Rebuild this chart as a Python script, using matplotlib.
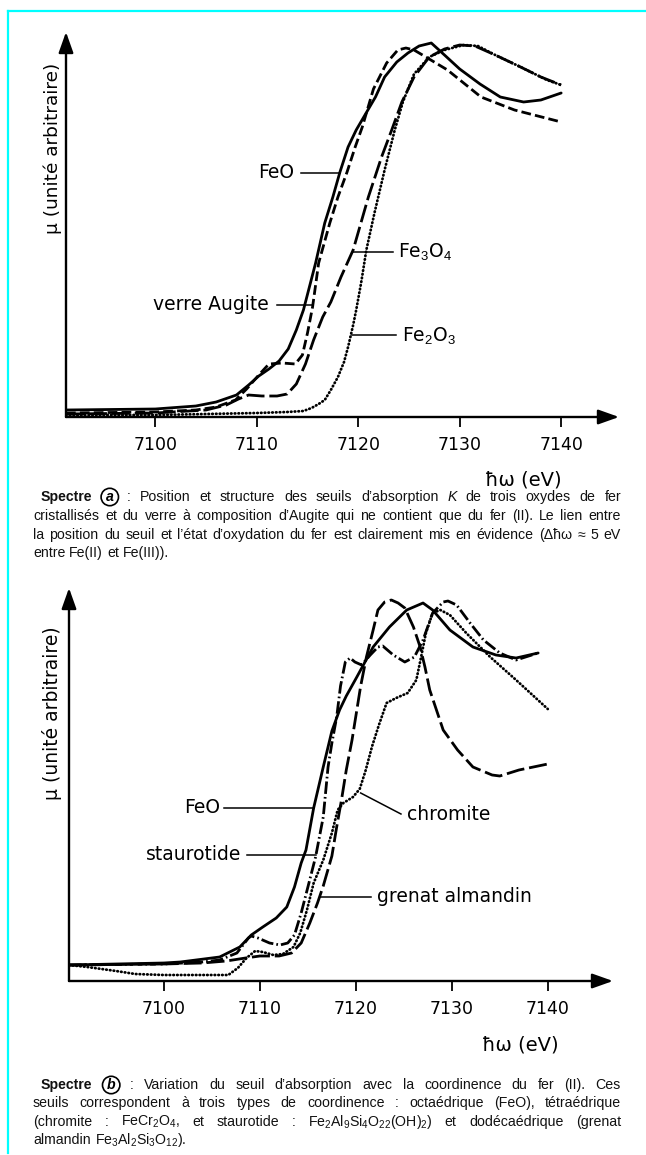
import numpy as np
import matplotlib
matplotlib.use("Agg")
import matplotlib.pyplot as plt
from matplotlib.lines import Line2D
from matplotlib import font_manager

plt.rcParams['font.family'] = ['DejaVu Sans']
plt.rcParams['mathtext.fontset'] = 'custom'
plt.rcParams['mathtext.rm'] = 'Liberation Sans'
plt.rcParams['mathtext.it'] = 'Liberation Sans:italic'
plt.rcParams['mathtext.bf'] = 'Liberation Sans:bold'
plt.rcParams['lines.scale_dashes'] = False

# ---------------- data : panel (a) ----------------
feo_a_ev = [7091.2, 7100, 7104, 7106, 7108, 7109.2, 7110.2, 7111.2, 7112.2, 7113.1, 7113.9,
            7114.6, 7115.8, 7116.7, 7117.5, 7118.2, 7119.0, 7119.8, 7121.7, 7122.6, 7123.8,
            7124.9, 7126.0, 7127.2, 7128.5, 7130.0, 7132.0, 7134.0, 7136.3, 7138.0, 7140.0]
feo_a_mu = [7, 8, 11, 15, 22, 32, 41, 48, 56, 68, 87,
            107, 154, 194, 220, 245, 270, 287, 320, 340, 355,
            364, 371, 374, 362, 348, 333, 320, 315, 317, 324]

aug_a_ev = [7091.2, 7100, 7104, 7106, 7107.9, 7109, 7110.2, 7111.2, 7112.5, 7113.8, 7114.5,
            7115.0, 7115.5, 7116.1, 7117.2, 7118.0, 7118.9, 7119.7, 7120.4, 7121.5, 7122.8,
            7123.9, 7124.7, 7125.5, 7126.5, 7128.8, 7132.1, 7135.4, 7140.0]
aug_a_mu = [4, 5, 7, 10, 17, 28, 42, 53, 54, 53, 62,
            84, 110, 154, 194, 220, 245, 270, 290, 328, 354,
            367, 369, 367, 361, 347, 320, 307, 295]

fe3o4_a_ev = [7091.2, 7100, 7105, 7107, 7108.2, 7109.2, 7110.5, 7112, 7113, 7113.9, 7114.8,
              7115.6, 7116.5, 7117.3, 7118.3, 7119.5, 7121.0, 7122.3, 7123.3, 7124.3, 7125.5,
              7127.0, 7128.5, 7130.0, 7131.5, 7133.5, 7136.0, 7138.0, 7140.0]
fe3o4_a_mu = [3, 4, 7, 12, 18, 22, 21, 21, 23, 33, 53,
              77, 100, 115, 140, 167, 220, 260, 287, 315, 340,
              360, 368, 372, 371, 362, 350, 340, 332]

fe2o3_a_ev = [7091.2, 7100, 7105, 7110, 7113, 7114.6, 7115.4, 7116.1, 7116.7, 7117.3, 7118.0,
              7118.6, 7119.0, 7119.5, 7119.8, 7120.3, 7120.8, 7121.6, 7122.6, 7123.6, 7124.4,
              7125.5, 7127.0, 7128.5, 7130.4, 7131.8, 7133.5, 7136.0, 7138.6, 7140.0]
fe2o3_a_mu = [2, 2, 3, 4, 5, 6, 9, 13, 17, 27, 40,
              55, 70, 92, 107, 135, 167, 204, 247, 287, 315,
              343, 360, 367, 372, 371, 362, 350, 337, 332]

# ---------------- data : panel (b) ----------------
feo_b_ev = [7090.1, 7100, 7101.7, 7105.8, 7107.9, 7109.1, 7110.3, 7111.7, 7112.8, 7113.6, 7114.3,
            7114.8, 7115.6, 7116.6, 7117.5, 7118.3, 7119.0, 7120.1, 7121.8, 7123.5, 7125.3,
            7127.0, 7128.0, 7129.8, 7132.2, 7134.6, 7136.7, 7139.0]
feo_b_mu = [16, 18, 19, 24, 34, 46, 54, 63, 74, 94, 118,
            131, 173, 214, 250, 271, 285, 304, 334, 354, 371,
            378, 371, 351, 334, 326, 323, 328]

stau_b_ev = [7090.1, 7100, 7104, 7105.8, 7107.6, 7108.8, 7109.1, 7109.8, 7111.0, 7112.1, 7112.9,
             7113.6, 7114.3, 7115.0, 7115.8, 7116.6, 7117.1, 7117.5, 7118.0, 7118.4, 7118.9,
             7119.4, 7119.9, 7120.6, 7121.5, 7122.3, 7122.8, 7123.9, 7125.1, 7126.1, 7127.0,
             7128.0, 7129.1, 7129.6, 7130.5, 7131.9, 7133.3, 7135.0, 7136.7, 7139.0]
stau_b_mu = [16, 17, 19, 21, 28, 43, 45, 43, 38, 36, 38,
             46, 68, 94, 124, 164, 214, 238, 264, 295, 319,
             323, 319, 316, 326, 334, 335, 326, 319, 324, 341,
             368, 379, 380, 376, 358, 341, 328, 321, 328]

chro_b_ev = [7090.1, 7092, 7095, 7097, 7100, 7106.7, 7107.7, 7108.6, 7109.5, 7110.3, 7111.4,
             7112.4, 7113.5, 7114.2, 7114.9, 7115.6, 7116.6, 7117.5, 7118.1, 7118.7, 7119.7,
             7120.4, 7121.0, 7121.7, 7122.4, 7123.2, 7124.2, 7125.4, 7126.3, 7126.8, 7127.3,
             7128.0, 7128.8, 7129.8, 7131.5, 7134.0, 7136.7, 7140.0]
chro_b_mu = [16, 14, 10, 7, 6, 6, 13, 23, 30, 29, 26,
             27, 34, 48, 71, 98, 121, 148, 171, 178, 184,
             192, 210, 235, 256, 278, 283, 288, 301, 324, 348,
             368, 371, 366, 348, 324, 301, 272]

gren_b_ev = [7090.1, 7100, 7104, 7106.5, 7108.5, 7110, 7112, 7113.3, 7114.3, 7115.2, 7116.0,
             7116.6, 7117.5, 7118.0, 7118.5, 7119.0, 7119.6, 7120.1, 7120.5, 7121.1, 7121.8,
             7122.3, 7123.0, 7123.7, 7124.4, 7125.1, 7126.0, 7126.7, 7127.2, 7127.7, 7128.4,
             7129.1, 7130.6, 7132.2, 7134.2, 7135.0, 7137.0, 7140.0]
gren_b_mu = [16, 17, 18, 20, 23, 25, 25, 28, 38, 58, 78,
             95, 125, 154, 181, 211, 241, 271, 295, 324, 351,
             371, 379, 381, 378, 373, 354, 334, 314, 291, 271,
             251, 231, 214, 206, 205, 211, 217]

tick_values = [7100, 7110, 7120, 7130, 7140]
tick_labels = ["7100", "7110", "7120", "7130", "7140"]

# ---------------- fonts ----------------
_names = {f.name for f in font_manager.fontManager.ttflist}
TICK_FAM = "Liberation Sans Narrow" if "Liberation Sans Narrow" in _names else "DejaVu Sans"
TICK_FS = 14 if TICK_FAM == "Liberation Sans Narrow" else 12.5

# ---------------- figure ----------------
W, H = 646, 1155
fig = plt.figure(figsize=(W / 100, H / 100), dpi=100)
fig.patch.set_facecolor("white")


def px_axes(left, top, right, bottom):
    return fig.add_axes([left / W, 1 - bottom / H, (right - left) / W, (bottom - top) / H])


def setup(ax, xlim, ymax):
    ax.set_xlim(*xlim)
    ax.set_ylim(0, ymax)
    for s in ax.spines.values():
        s.set_visible(False)
    ax.set_facecolor("none")
    ax.set_yticks([])
    ax.set_xticks(tick_values, tick_labels)
    ax.tick_params(axis="x", direction="out", length=7, width=1.3, pad=7,
                   labelsize=TICK_FS, colors="black")
    for lab in ax.get_xticklabels():
        lab.set_family(TICK_FAM)
    ap = dict(arrowstyle="-|>,head_length=0.9,head_width=0.32", lw=1.7, color="black",
              shrinkA=0, shrinkB=0, mutation_scale=14)
    ax.annotate("", xy=(1, 0), xytext=(0, 0), xycoords="axes fraction",
                textcoords="axes fraction", arrowprops=ap)
    ax.annotate("", xy=(0, 1), xytext=(0, 0), xycoords="axes fraction",
                textcoords="axes fraction", arrowprops=ap)


LW = 2.0
solid = dict(color="black", lw=LW, solid_capstyle="round")
dash_med = dict(color="black", lw=LW, linestyle=(0, (7, 3)))
dash_long = dict(color="black", lw=LW, linestyle=(0, (13, 3.5)))
dotted = dict(color="black", lw=2.0, linestyle=(0, (0.4, 2.3)), dash_capstyle="round")
dash_dot = dict(color="black", lw=LW, linestyle=(0, (9, 2.2, 1.2, 2.2)))

label_fs = 13.5
lbl = dict(fontsize=label_fs, color="black", va="center")
ptr = dict(color="black", lw=1.1)

# ---------- panel (a) ----------
axa = px_axes(66, 32, 619, 417)
setup(axa, (7091.2, 7145.7), 385)
axa.plot(fe2o3_a_ev, fe2o3_a_mu, **dotted)
axa.plot(fe3o4_a_ev, fe3o4_a_mu, **dash_long)
axa.plot(aug_a_ev, aug_a_mu, **dash_med)
axa.plot(feo_a_ev, feo_a_mu, **solid)

axa.text(7113.7, 244, "FeO", ha="right", **lbl)
axa.plot([7114.4, 7118.2], [244, 244], **ptr)
axa.text(7123.9, 165, "Fe$_3$O$_4$", ha="left", **lbl)
axa.plot([7119.5, 7123.4], [165, 165], **ptr)
axa.text(7111.2, 112, "verre Augite", ha="right", **lbl)
axa.plot([7112.0, 7115.5], [112, 112], **ptr)
axa.text(7124.3, 82, "Fe$_2$O$_3$", ha="left", **lbl)
axa.plot([7119.4, 7123.7], [82, 82], **ptr)

fig.text(53 / W, 1 - 148 / H, "μ (unité arbitraire)", rotation=90, ha="center",
         va="center", fontsize=13.3)
fig.text(523 / W, 1 - 480 / H, "ħω (eV)", ha="center", va="center", fontsize=14)

# ---------- panel (b) ----------
axb = px_axes(69, 588, 613, 981)
setup(axb, (7090.1, 7146.8), 393)
axb.plot(chro_b_ev, chro_b_mu, **dotted)
axb.plot(gren_b_ev, gren_b_mu, **dash_long)
axb.plot(stau_b_ev, stau_b_mu, **dash_dot)
axb.plot(feo_b_ev, feo_b_mu, **solid)

axb.text(7105.9, 173, "FeO", ha="right", **lbl)
axb.plot([7106.3, 7115.6], [173, 173], **ptr)
axb.text(7108.1, 126, "staurotide", ha="right", **lbl)
axb.plot([7108.7, 7115.8], [126, 126], **ptr)
axb.text(7125.3, 166, "chromite", ha="left", **lbl)
axb.plot([7120.5, 7124.7], [188, 167], **ptr)
axb.text(7122.2, 84, "grenat almandin", ha="left", **lbl)
axb.plot([7116.3, 7121.6], [84, 84], **ptr)

fig.text(52 / W, 1 - 713 / H, "μ (unité arbitraire)", rotation=90, ha="center",
         va="center", fontsize=13.5)
fig.text(520 / W, 1 - 1045 / H, "ħω (eV)", ha="center", va="center", fontsize=14)

# ---------- captions (justified) ----------
CAP_FS = 10.2
CAP_FAM = ["Liberation Sans", "DejaVu Sans"]
renderer = fig.canvas.get_renderer()


def cap_line(yc, x0, x1, tokens, justify=True):
    yb = 1 - (yc + 4) / H
    items = []
    for tok in tokens:
        if isinstance(tok, tuple) and tok[0] == "circ":
            t = fig.text(0, yb, tok[1], fontsize=CAP_FS, family=CAP_FAM, style="italic",
                         fontweight="bold", va="baseline", ha="center",
                         bbox=dict(boxstyle="circle,pad=0.12", fc="none", ec="black", lw=1.2))
            items.append((t, 17, True))
            continue
        if isinstance(tok, tuple):
            txt, kind = tok
        else:
            txt, kind = tok, ""
        kw = {}
        if kind == "b":
            kw["fontweight"] = "bold"
        if kind == "i":
            kw["style"] = "italic"
        t = fig.text(0, yb, txt, fontsize=CAP_FS, family=CAP_FAM, va="baseline",
                     ha="left", color="#111111", **kw)
        w = t.get_window_extent(renderer).width
        items.append((t, w, False))
    total = sum(w for _, w, _ in items)
    n = len(items)
    if justify and n > 1:
        gap = (x1 - x0 - total) / (n - 1)
    else:
        gap = 4.0
    x = x0
    for t, w, centered in items:
        if centered:
            t.set_x((x + w / 2) / W)
        else:
            t.set_x(x / W)
        x += w + gap


def words(s):
    return [w for w in s.split(" ") if w != ""]


capA = [
    [("Spectre", "b"), ("circ", "a")] + words(":  Position et structure des seuils d’absorption")
    + [("K", "i")] + words("de trois oxydes de fer"),
    words("cristallisés et du verre à composition d’Augite qui ne contient que du fer (II). Le lien entre"),
    words("la position du seuil et l’état d’oxydation du fer est clairement mis en évidence (Δħω ≈ 5 eV"),
    words("entre Fe(II) et Fe(III))."),
]
capB = [
    [("Spectre", "b"), ("circ", "b")] + words(": Variation du seuil d’absorption avec la coordinence du fer (II). Ces"),
    words("seuils correspondent à trois types de coordinence : octaédrique (FeO), tétraédrique"),
    words("(chromite : FeCr$_2$O$_4$, et staurotide : Fe$_2$Al$_9$Si$_4$O$_{22}$(OH)$_2$) et dodécaédrique (grenat"),
    words("almandin Fe$_3$Al$_2$Si$_3$O$_{12}$)."),
]

ys_a = [497, 516, 535, 553]
ys_b = [1085, 1103, 1122, 1140]
for i, toks in enumerate(capA):
    cap_line(ys_a[i], 41 if i == 0 else 33, 621, toks, justify=(i < 3))
for i, toks in enumerate(capB):
    cap_line(ys_b[i], 41 if i == 0 else 33, 621, toks, justify=(i < 3))

# ---------- cyan frame ----------
fig.add_artist(Line2D([8 / W, 1], [1 - 11 / H, 1 - 11 / H], color="#00ffff", lw=1.6))
fig.add_artist(Line2D([8 / W, 8 / W], [1 - 11 / H, 1 - 1153 / H], color="#00ffff", lw=1.6))

fig.savefig("out.png", dpi=100, facecolor="white")
